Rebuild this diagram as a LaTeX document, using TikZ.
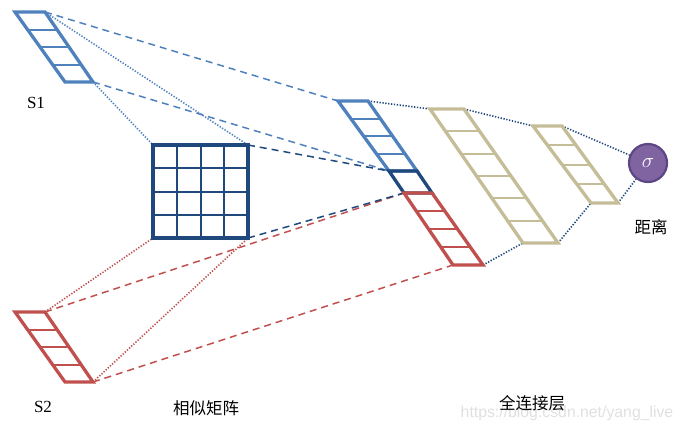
\documentclass[tikz,border=0pt]{standalone}
\usepackage{fontspec}
\setmainfont{Liberation Serif}
\newfontfamily\cjk{Noto Sans CJK SC}
\newfontfamily\wmfont{Liberation Sans}
\usetikzlibrary{calc}
\definecolor{cblue}{HTML}{4F81BD}
\definecolor{cdark}{HTML}{1F497D}
\definecolor{cred}{HTML}{C0504D}
\definecolor{ctan}{HTML}{C4BD97}
\definecolor{cpurple}{HTML}{8064A2}
\definecolor{cpurpled}{HTML}{5C4683}
\pgfdeclarelayer{bg}
\pgfsetlayers{bg,main}
\tikzset{
  barline/.style={line width=3.3pt, line join=miter},
  cellline/.style={line width=2pt},
  dashln/.style={line width=1.5pt, dash pattern=on 7pt off 5pt},
  dotln/.style={line width=1.6pt, dash pattern=on 1.3pt off 1.6pt},
  lab/.style={font=\fontsize{17}{17}\selectfont, inner sep=0pt},
  cjklab/.style={font=\cjk\fontsize{16.5}{17}\selectfont, inner sep=0pt},
}
% #1 name, #2 tl, #3 tr, #4 bl, #5 br, #6 cells, #7 colour
\newcommand\slantbar[7]{%
  \coordinate (#1tl) at #2; \coordinate (#1tr) at #3;
  \coordinate (#1bl) at #4; \coordinate (#1br) at #5;
  \pgfmathtruncatemacro\nmcells{#6-1}%
  \foreach \k in {1,...,\nmcells}{%
    \draw[cellline,#7] ($(#1tl)!\k/#6!(#1bl)$) -- ($(#1tr)!\k/#6!(#1br)$);
  }%
  \draw[barline,#7] (#1tl) -- (#1tr) -- (#1br) -- (#1bl) -- cycle;
}
\begin{document}
\begin{tikzpicture}[x=1pt,y=-1pt]
\useasboundingbox (0,0) rectangle (684,429);
% input bars
\slantbar{sa}{(15,12)}{(45,12)}{(65,82)}{(93,82)}{4}{cblue}
\slantbar{sb}{(15,312)}{(45,312)}{(65,382)}{(93,382)}{4}{cred}
% similarity matrix
\coordinate (mtl) at (153,145); \coordinate (mtr) at (248,145);
\coordinate (mbl) at (153,238); \coordinate (mbr) at (248,238);
\foreach \k in {1,2,3}{
  \draw[cellline,cdark,line width=2pt] ($(mtl)!\k/4!(mtr)$) -- ($(mbl)!\k/4!(mbr)$);
  \draw[cellline,cdark,line width=2pt] ($(mtl)!\k/4!(mbl)$) -- ($(mtr)!\k/4!(mbr)$);
}
\draw[cdark,line width=3.8pt] (mtl) rectangle (mbr);
% concatenated column
\slantbar{mb}{(338,101)}{(368,101)}{(389,171)}{(417,171)}{4}{cblue}
\coordinate (mdtl) at (389,171); \coordinate (mdtr) at (417,171);
\coordinate (mdbl) at (404,193); \coordinate (mdbr) at (432,193);
\draw[barline,cdark] (mdtl) -- (mdtr) -- (mdbr) -- (mdbl) -- cycle;
\slantbar{mr}{(404,193)}{(432,193)}{(453,265)}{(483,265)}{4}{cred}
% fully connected layers
\slantbar{fa}{(430,109)}{(464,109)}{(523,243)}{(558,243)}{6}{ctan}
\slantbar{fb}{(533,126)}{(562,126)}{(591,203)}{(618,203)}{4}{ctan}
\node[circle, fill=cpurple, draw=cpurpled, line width=2.2pt, minimum size=38pt,
      inner sep=0pt, text=white, font=\fontsize{21}{21}\selectfont] (sig) at (648,163) {$\sigma$};
% connectors
\begin{pgfonlayer}{bg}
\draw[dashln,cblue] (satr) -- (mbtl);
\draw[dashln,cblue] (sabr) -- (mdtl);
\draw[dotln,cblue] (satr) -- (mtr);
\draw[dotln,cblue] (sabr) -- (mtl);
\draw[dashln,cred] (sbtr) -- (mdbl);
\draw[dashln,cred] (sbbr) -- (mrbl);
\draw[dotln,cred] (sbtr) -- (mbl);
\draw[dotln,cred] (sbbr) -- (mbr);
\draw[dashln,cdark] (mtr) -- (mdtl);
\draw[dashln,cdark] (mbr) -- (mdbl);
\draw[dotln,cdark] (mbtr) -- (fatl);
\draw[dotln,cdark] (mrbr) -- (fabl);
\draw[dotln,cdark] (fatr) -- (fbtl);
\draw[dotln,cdark] (fabr) -- (fbbl);
\draw[dotln,cdark] (fbtr) -- (sig);
\draw[dotln,cdark] (fbbr) -- (sig);
\end{pgfonlayer}
% labels
\node[text=black!12, font=\wmfont\fontsize{15.8}{16}\selectfont, inner sep=0pt] (wm) at (567,413) {https://blog.csdn.net/yang\_live};
\node[lab] (s1lab) at (36,103) {S1};
\node[lab] (s2lab) at (43,407) {S2};
\node[cjklab] (mlab) at (206,408) {相似矩阵};
\node[cjklab] (flab) at (532,403) {全连接层};
\node[cjklab] (dlab) at (651,227) {距离};
\end{tikzpicture}
\end{document}
